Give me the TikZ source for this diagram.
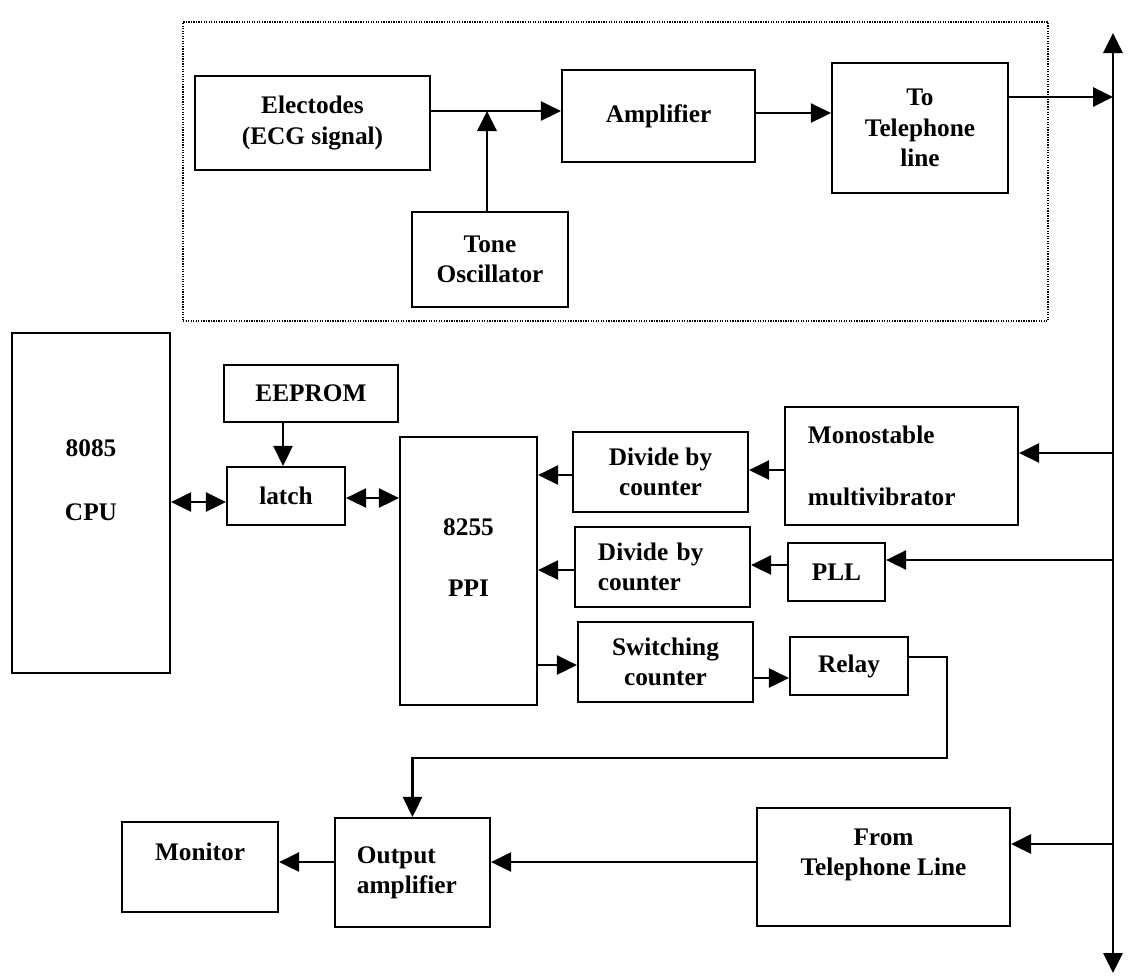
\documentclass[tikz,border=0pt]{standalone}
\usepackage{fontspec}
\setmainfont{Liberation Serif}
\usetikzlibrary{arrows.meta}
\tikzset{
  px/.style 2 args={minimum width=#1*0.025cm, minimum height=#2*0.025cm},
  box/.style={draw, line width=1.6pt, inner sep=0pt, align=center, font=\bfseries\fontsize{18}{21.5}\selectfont},
  txt/.style={inner sep=0pt, align=center, font=\bfseries\fontsize{18}{21.5}\selectfont},
  Big/.tip={Triangle[length=0.5cm,width=0.48cm]},
  arr/.style={line width=1.6pt, -Big},
  dbl/.style={line width=1.6pt, Big-Big},
  dotframe/.style={draw, line width=0.9pt, dash pattern=on 0.9pt off 0.9pt, inner sep=0pt},
}
\begin{document}
\begin{tikzpicture}[x=0.025cm, y=-0.025cm]
\useasboundingbox[fill=white] (0,0) rectangle (1130,976);
% frame
\node[dotframe, px={865}{299}] (frame) at (615.5,171.5) {};
% boxes
\node[box, px={235}{94}] (elec) at (312.5,123) {Electodes\\(ECG signal)};
\node[box, px={193}{92}] (amp) at (658.5,116) {Amplifier};
\node[box, px={176}{130}] (totel) at (920,128) {To\\Telephone\\line};
\node[box, px={156}{95}] (tone) at (490,259.5) {Tone\\Oscillator};
\node[box, px={158}{340}, label={[name=cpuT, txt, yshift=0.575cm]center:8085\\[0.85cm]CPU}] (cpu) at (91,503) {};
\node[box, px={174}{57}] (eeprom) at (311,393.5) {EEPROM};
\node[box, px={118}{58}] (latch) at (286,496) {latch};
\node[box, px={137}{268}, label={[name=ppiT, txt, yshift=0.34cm]center:8255\\[0.78cm]PPI}] (ppi) at (468.5,571) {};
\node[box, px={175}{80}] (divA) at (660.5,472) {Divide by\\counter};
\node[box, px={233}{118}, text width=4.675cm, align=left] (mono) at (901.5,466) {Monostable\\[0.8cm]multivibrator};
\node[box, px={175}{80}, text width=3.225cm, align=left] (divB) at (662.5,567) {Divide by\\counter};
\node[box, px={97}{58}] (pll) at (836.5,572) {PLL};
\node[box, px={175}{80}] (sw) at (665.5,662) {Switching\\counter};
\node[box, px={118}{58}] (relay) at (849,666) {Relay};
\node[box, px={156}{90}] (monitor) at (200,867) {Monitor\\\mbox{}};
\node[box, px={155}{109}, text width=2.775cm, align=left] (outamp) at (412.5,872.5) {Output\\amplifier};
\node[box, px={253}{118}] (fromtel) at (883.5,867) {From\\Telephone Line\\\mbox{}};
% helper coordinates
\coordinate (bustop) at (1113,33);
\coordinate (busbot) at (1113,973);
\coordinate (junc) at (487,111);
\coordinate (rbend) at (947,758);
% connectors
\draw[arr] (elec.east |- junc) -- (amp.west |- junc);
\draw[arr] (tone.north -| junc) -- (junc);
\draw[arr] (amp.east |- 0,113) -- (totel.west |- 0,113);
\draw[dbl] (busbot) -- (bustop);
\draw[arr] (totel.east |- 0,97) -- (bustop |- 0,97);
\draw[arr] (eeprom.south -| 283,0) -- (latch.north -| 283,0);
\draw[dbl] (cpu.east |- 0,502) -- (latch.west |- 0,502);
\draw[dbl] (latch.east |- 0,498) -- (ppi.west |- 0,498);
\draw[arr] (bustop |- 0,453) -- (mono.east |- 0,453);
\draw[arr] (mono.west |- 0,470) -- (divA.east |- 0,470);
\draw[arr] (divA.west |- 0,475) -- (ppi.east |- 0,475);
\draw[arr] (bustop |- 0,560) -- (pll.east |- 0,560);
\draw[arr] (pll.west |- 0,565) -- (divB.east |- 0,565);
\draw[arr] (divB.west |- 0,570) -- (ppi.east |- 0,570);
\draw[arr] (ppi.east |- 0,665) -- (sw.west |- 0,665);
\draw[arr] (sw.east |- 0,678) -- (relay.west |- 0,678);
\draw[arr] (relay.east |- 0,657) -| (rbend) -| (outamp.north);
\draw[arr] (bustop |- 0,844) -- (fromtel.east |- 0,844);
\draw[arr] (fromtel.west |- 0,862) -- (outamp.east |- 0,862);
\draw[arr] (outamp.west |- 0,862) -- (monitor.east |- 0,862);
\end{tikzpicture}
\end{document}
